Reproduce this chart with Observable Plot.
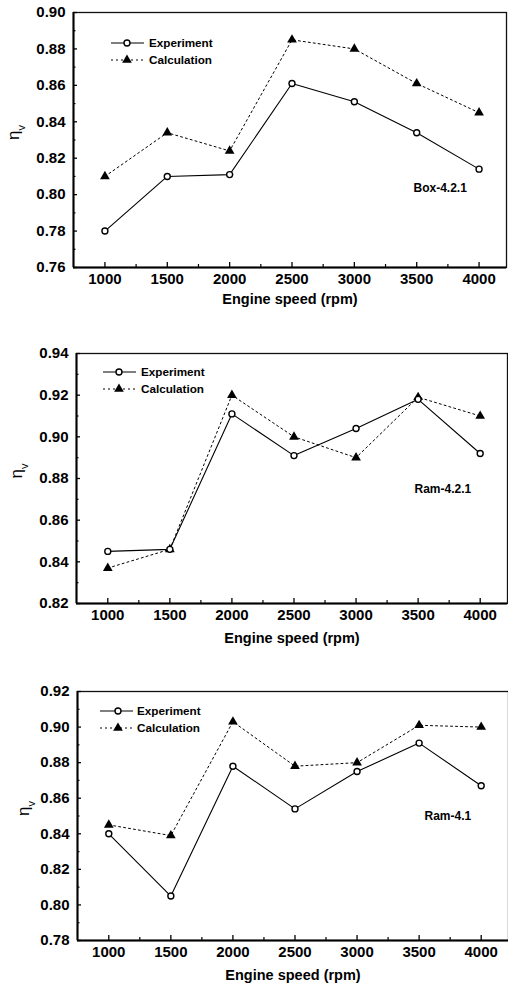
<!DOCTYPE html>
<html><head><meta charset="utf-8">
<script src="https://cdn.jsdelivr.net/npm/d3@7"></script>
<script src="https://cdn.jsdelivr.net/npm/@observablehq/plot@0.6"></script>
<style>
html,body{margin:0;padding:0;background:#fff;}
#chart svg{display:block;}
</style></head><body><div id="chart"></div>
<script>
// ---- data ----
const speeds = [1000, 1500, 2000, 2500, 3000, 3500, 4000];
const speedTicks = [1000, 1500, 2000, 2500, 3000, 3500, 4000];
const speedMinorTicks = [1250, 1750, 2250, 2750, 3250, 3750];
const seriesNames = ["Experiment", "Calculation"];
const panelNames = ["Box-4.2.1", "Ram-4.2.1", "Ram-4.1"];

const box421Exp  = [0.780, 0.810, 0.811, 0.861, 0.851, 0.834, 0.814];
const box421Calc = [0.810, 0.834, 0.824, 0.885, 0.880, 0.861, 0.845];
const ram421Exp  = [0.845, 0.846, 0.911, 0.891, 0.904, 0.918, 0.892];
const ram421Calc = [0.837, 0.846, 0.920, 0.900, 0.890, 0.919, 0.910];
const ram41Exp   = [0.840, 0.805, 0.878, 0.854, 0.875, 0.891, 0.867];
const ram41Calc  = [0.845, 0.839, 0.903, 0.878, 0.880, 0.901, 0.900];

const box421YTicks = [0.76, 0.78, 0.80, 0.82, 0.84, 0.86, 0.88, 0.90];
const ram421YTicks = [0.82, 0.84, 0.86, 0.88, 0.90, 0.92, 0.94];
const ram41YTicks  = [0.78, 0.80, 0.82, 0.84, 0.86, 0.88, 0.90, 0.92];

const xDomain = [748, 4220];
const yLabel = "ηv";
const xLabel = "Engine speed (rpm)";

// ---- layout (positions / styles only) ----
const font = "'Liberation Sans', Arial, Helvetica, sans-serif";
const panels = [
  {exp: box421Exp, calc: box421Calc, yTicks: box421YTicks, name: panelNames[0],
   height: 320, mt: 12, mb: 53, ml: 73, mr: 2,
   nameDx: 340, nameDy: 171, xLabDy: 32, yLabDx: -60,
   leg: {x0: 38, x1: 71, xm: 54, xt: 76, y0: 31, y1: 48}},
  {exp: ram421Exp, calc: ram421Calc, yTicks: ram421YTicks, name: panelNames[1],
   height: 330, mt: 33, mb: 47, ml: 76, mr: 1,
   nameDx: 338, nameDy: 131, xLabDy: 35, yLabDx: -60,
   leg: {x0: 27, x1: 60, xm: 43, xt: 65, y0: 19, y1: 36}},
  {exp: ram41Exp, calc: ram41Calc, yTicks: ram41YTicks, name: panelNames[2],
   height: 335, mt: 41, mb: 45, ml: 77, mr: 0,
   nameDx: 347, nameDy: 120, xLabDy: 35, yLabDx: -54,
   leg: {x0: 23, x1: 56, xm: 41, xt: 60, y0: 20, y1: 37}}
];

const root = document.getElementById("chart");

panels.forEach(p => {
  const expRows = speeds.map((s, j) => ({speed: s, eta: p.exp[j], series: seriesNames[0]}));
  const calcRows = speeds.map((s, j) => ({speed: s, eta: p.calc[j], series: seriesNames[1]}));
  const yDomain = [p.yTicks[0], p.yTicks[p.yTicks.length - 1]];
  const yMinor = p.yTicks.slice(1).map((t, k) => (t + p.yTicks[k]) / 2);

  const svg = Plot.plot({
    width: 508, height: p.height,
    marginTop: p.mt, marginBottom: p.mb, marginLeft: p.ml, marginRight: p.mr,
    x: {type: "linear", domain: xDomain, axis: null},
    y: {type: "linear", domain: yDomain, axis: null},
    style: {fontFamily: font, color: "#000", background: "#fff", overflow: "visible"},
    marks: [
      Plot.frame({stroke: "#111", strokeWidth: 1.3}),
      Plot.ruleY([yDomain[0]], {stroke: "#000", strokeWidth: 2}),
      Plot.ruleX([xDomain[0]], {stroke: "#000", strokeWidth: 2}),
      // inward ticks
      Plot.axisY({ticks: p.yTicks, tickSize: 4, dx: 4, tickFormat: () => "", label: null, strokeWidth: 1.3}),
      Plot.axisY({ticks: yMinor, tickSize: 2.5, dx: 2.5, tickFormat: () => "", label: null, strokeWidth: 1.2}),
      Plot.axisX({ticks: speedTicks, tickSize: 5, dy: -5, tickFormat: () => "", label: null, strokeWidth: 1.3}),
      Plot.axisX({ticks: speedMinorTicks, tickSize: 3, dy: -3, tickFormat: () => "", label: null, strokeWidth: 1.2}),
      // labels
      Plot.axisY({ticks: p.yTicks, tickSize: 0, tickPadding: 8, tickFormat: ".2f", label: null, fontSize: 15, fontWeight: "bold"}),
      Plot.axisX({ticks: speedTicks, tickSize: 0, tickPadding: 6, tickFormat: d => String(d), label: null, fontSize: 15, fontWeight: "bold"}),
      Plot.text([xLabel], {frameAnchor: "bottom", dy: p.xLabDy, lineAnchor: "middle", fontSize: 14.5, fontWeight: "bold"}),
      Plot.text([yLabel], {frameAnchor: "left", dx: p.yLabDx, rotate: -90, fontSize: 17}),
      Plot.text([p.name], {frameAnchor: "top-left", dx: p.nameDx, dy: p.nameDy, textAnchor: "start", fontSize: 12, fontWeight: "bold"}),
      // data
      Plot.line(calcRows, {x: "speed", y: "eta", stroke: "#000", strokeWidth: 1, strokeDasharray: "2,3"}),
      Plot.line(expRows, {x: "speed", y: "eta", stroke: "#000", strokeWidth: 1.1}),
      Plot.dot(calcRows, {x: "speed", y: "eta", symbol: "triangle", fill: "#000", r: 3.6}),
      Plot.dot(expRows, {x: "speed", y: "eta", symbol: "circle", fill: "#fff", stroke: "#000", strokeWidth: 1.4, r: 3})
    ]
  });

  // subscript on the y label (and make sure it is rotated)
  d3.select(svg).selectAll("text").filter(function() { return this.textContent === yLabel; })
    .each(function() {
      const el = this;
      const t = d3.select(el);
      t.text(null);
      t.append("tspan").text(yLabel[0]);
      t.append("tspan").attr("baseline-shift", "sub").attr("font-size", "0.65em").text(yLabel.slice(1));
      const own = el.getAttribute("transform") || "";
      const par = (el.parentNode && el.parentNode.getAttribute("transform")) || "";
      if (!own.includes("rotate") && !par.includes("rotate")) {
        const x = +(el.getAttribute("x") || 0), y = +(el.getAttribute("y") || 0);
        el.removeAttribute("x"); el.removeAttribute("y");
        el.setAttribute("transform", `${own} translate(${x},${y}) rotate(-90)`);
      }
    });

  // legend (inside plot, top-left)
  const L = p.leg;
  const g = d3.select(svg).append("g")
    .attr("transform", `translate(${p.ml},${p.mt})`)
    .attr("font-family", font).attr("font-size", 11.7).attr("font-weight", "bold")
    .attr("fill", "#000").attr("text-anchor", "start");
  g.append("line").attr("x1", L.x0).attr("x2", L.x1).attr("y1", L.y0).attr("y2", L.y0)
    .attr("stroke", "#000").attr("stroke-width", 1.1);
  g.append("circle").attr("cx", L.xm).attr("cy", L.y0).attr("r", 3)
    .attr("fill", "#fff").attr("stroke", "#000").attr("stroke-width", 1.4);
  g.append("text").attr("x", L.xt).attr("y", L.y0).attr("dy", "0.35em").text(seriesNames[0]);
  g.append("line").attr("x1", L.x0).attr("x2", L.x1).attr("y1", L.y1).attr("y2", L.y1)
    .attr("stroke", "#000").attr("stroke-width", 1).attr("stroke-dasharray", "2,3");
  g.append("path").attr("transform", `translate(${L.xm},${L.y1})`)
    .attr("d", d3.symbol(d3.symbolTriangle, Math.PI * 3.6 * 3.6)()).attr("fill", "#000");
  g.append("text").attr("x", L.xt).attr("y", L.y1).attr("dy", "0.35em").text(seriesNames[1]);

  root.appendChild(svg);
});
</script></body></html>
